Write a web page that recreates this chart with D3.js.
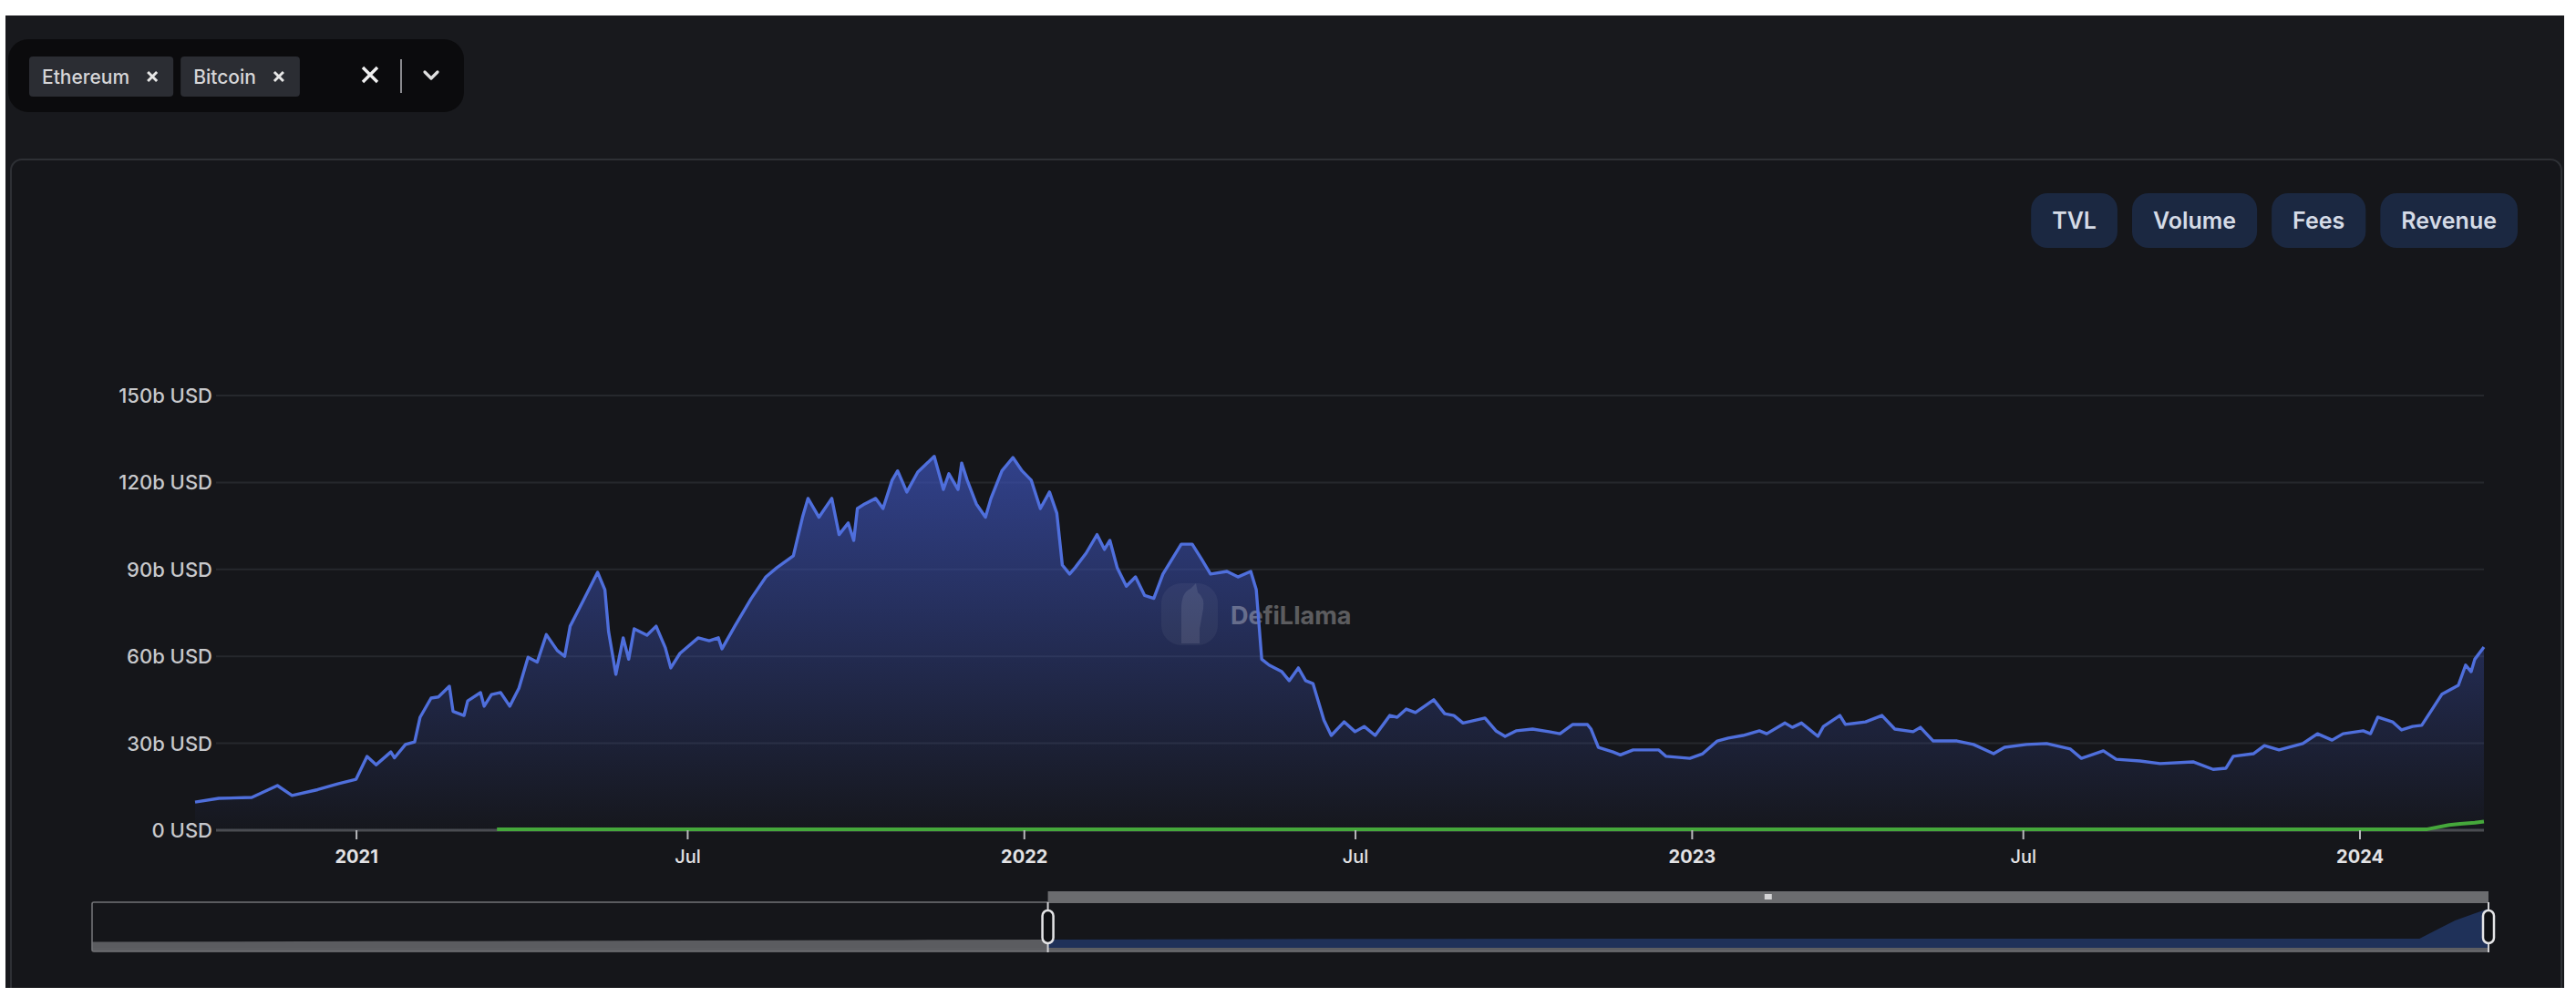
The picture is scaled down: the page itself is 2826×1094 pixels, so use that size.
<!DOCTYPE html>
<html>
<head>
<meta charset="utf-8">
<script src="https://cdnjs.cloudflare.com/ajax/libs/d3/7.8.5/d3.min.js"></script>
<style>
    html, body {margin: 0; padding: 0; background: #ffffff; overflow: hidden;}
    #chart-area {width: 2826px; height: 1094px;}
    svg text {font-family: Inter, "Noto Sans", sans-serif;}
</style>
</head>
<body>
<div id="chart-area"></div>
<script>

//Ethereum TVL in billions of USD
const ethDates = [
    "2020-10-05","2020-10-18","2020-11-05","2020-11-19","2020-11-27","2020-12-11","2020-12-22",
    "2021-01-01","2021-01-07","2021-01-12","2021-01-20","2021-01-22","2021-01-28","2021-02-02",
    "2021-02-05","2021-02-11","2021-02-15","2021-02-21","2021-02-23","2021-03-01","2021-03-03",
    "2021-03-10","2021-03-12","2021-03-16","2021-03-21","2021-03-26","2021-03-31","2021-04-05",
    "2021-04-10","2021-04-15","2021-04-21","2021-04-25","2021-04-28","2021-05-05","2021-05-13",
    "2021-05-17","2021-05-19","2021-05-23","2021-05-27","2021-05-30","2021-06-02","2021-06-09",
    "2021-06-14","2021-06-19","2021-06-22","2021-06-27","2021-07-07","2021-07-13","2021-07-18",
    "2021-07-20","2021-07-27","2021-08-05","2021-08-13","2021-08-19","2021-08-28","2021-09-02",
    "2021-09-05","2021-09-11","2021-09-18","2021-09-22","2021-09-27","2021-09-30","2021-10-02",
    "2021-10-06","2021-10-12","2021-10-16","2021-10-21","2021-10-24","2021-10-29","2021-11-04",
    "2021-11-13","2021-11-18","2021-11-21","2021-11-26","2021-11-28","2021-12-01","2021-12-06",
    "2021-12-11","2021-12-14","2021-12-20","2021-12-26","2021-12-31","2022-01-05","2022-01-10",
    "2022-01-15","2022-01-19","2022-01-22","2022-01-26","2022-01-29","2022-02-04","2022-02-10",
    "2022-02-14","2022-02-17","2022-02-21","2022-02-26","2022-03-03","2022-03-08","2022-03-13",
    "2022-03-18","2022-03-28","2022-04-03","2022-04-08","2022-04-13","2022-04-22","2022-04-28",
    "2022-05-05","2022-05-08","2022-05-11","2022-05-15","2022-05-22","2022-05-26","2022-05-31",
    "2022-06-04","2022-06-08","2022-06-14","2022-06-18","2022-06-25","2022-07-01","2022-07-06",
    "2022-07-12","2022-07-20","2022-07-24","2022-07-29","2022-08-03","2022-08-13","2022-08-19",
    "2022-08-24","2022-08-29","2022-09-10","2022-09-16","2022-09-21","2022-09-27","2022-10-06",
    "2022-10-15","2022-10-21","2022-10-28","2022-11-05","2022-11-07","2022-11-11","2022-11-19",
    "2022-11-23","2022-11-30","2022-12-14","2022-12-18","2022-12-31","2023-01-07","2023-01-15",
    "2023-01-21","2023-01-29","2023-02-07","2023-02-11","2023-02-21","2023-02-25","2023-03-02",
    "2023-03-11","2023-03-14","2023-03-23","2023-03-26","2023-04-06","2023-04-15","2023-04-22",
    "2023-05-02","2023-05-06","2023-05-13","2023-05-26","2023-06-04","2023-06-15","2023-06-21",
    "2023-07-03","2023-07-14","2023-07-27","2023-08-02","2023-08-14","2023-08-21","2023-09-03",
    "2023-09-14","2023-10-02","2023-10-13","2023-10-20","2023-10-24","2023-11-04","2023-11-10",
    "2023-11-18","2023-12-01","2023-12-09","2023-12-17","2023-12-23","2024-01-03","2024-01-07",
    "2024-01-11","2024-01-19","2024-01-24","2024-01-30","2024-02-04","2024-02-10","2024-02-15",
    "2024-02-24","2024-02-28","2024-03-02","2024-03-04","2024-03-09"
];
const ethValues = [
    9.7, 11, 11.3, 15.4, 12, 14, 16,
    17.6, 25.5, 22.6, 27, 25, 29.6, 30.5,
    39, 45.6, 46, 49.7, 41, 39.6, 44.6,
    47.5, 42.8, 46.8, 47.5, 42.8, 49, 59.7,
    58, 67.5, 62, 60, 70.4, 79, 89,
    83, 68.6, 53.8, 66.4, 59, 69.5, 67.3,
    70.4, 63, 56, 61, 66.4, 65.4, 66.4,
    62.6, 70.4, 80, 87.4, 90.6, 94.7, 108,
    114.5, 108, 114.5, 102, 106, 100, 111,
    112.6, 114.5, 111, 120.8, 124, 116.7, 123.6,
    129, 117.6, 123, 117.6, 126.7, 120.8, 112.6,
    108, 114.5, 124, 128.6, 124, 120.8, 111,
    116.7, 109.4, 91.5, 88.4, 90.6, 95.6, 102,
    96.9, 100, 90.6, 84.2, 87.4, 81, 80,
    88.4, 98.7, 98.7, 93.7, 88.4, 89.3, 87.4,
    89.3, 83, 59, 57, 54.7, 51.6, 56,
    51.6, 50.6, 38, 32.7, 37.4, 34, 35.8,
    32.7, 39.6, 39, 41.8, 40.6, 45, 40.2,
    39.6, 37, 38.7, 34.3, 32.4, 34.3, 34.9,
    34, 33.3, 36.5, 36.5, 34.9, 28.6, 27,
    26, 27.7, 27.7, 25.5, 24.8, 26.4, 30.8,
    31.8, 32.7, 34.3, 33.3, 37, 35.5, 37,
    32.4, 35.8, 39.6, 36.5, 37.4, 39.6, 34.9,
    34, 35.5, 30.8, 30.8, 29.6, 26.4, 28.6,
    29.6, 29.9, 28, 24.8, 27.4, 24.5, 23.9,
    23, 23.6, 21, 21.4, 25.5, 26.4, 29.2,
    27.7, 29.9, 33.3, 31.1, 33.3, 34.3, 33.3,
    39, 37.4, 34.6, 35.8, 36.2, 42, 46.9,
    50, 57, 54.7, 59, 63.2
];

//Bitcoin TVL in billions of USD
const btcDates = ["2021-03-19","2021-11-01","2022-06-01","2023-01-01","2023-09-01","2024-02-07","2024-02-19","2024-02-25","2024-03-04","2024-03-09"];
const btcValues = [0.3, 0.35, 0.3, 0.3, 0.3, 0.35, 1.8, 2.2, 2.6, 3.0];

//data shadow drawn in the zoom slider (on its own scale)
const overviewDates = ["2018-06-28","2019-03-01","2019-12-01","2020-06-01","2020-10-05","2021-06-01","2022-06-01","2023-06-01","2024-01-09","2024-02-09","2024-02-25","2024-03-09"];
const overviewValues = [0.45, 0.5, 0.55, 0.6, 0.63, 0.68, 0.7, 0.7, 0.7, 2.1, 2.6, 3.0];

const yTicks = [0, 30, 60, 90, 120, 150];
const xTickDates = ["2021-01-01","2021-07-01","2022-01-01","2022-07-01","2023-01-01","2023-07-01","2024-01-01"];
const chainChips = ["Ethereum", "Bitcoin"];
const metricTabs = ["TVL", "Volume", "Fees", "Revenue"];


class TvlChart {

    constructor(_parentElement) {
        this.parentElement = _parentElement;
        this.parseDate = d3.utcParse("%Y-%m-%d");

        this.initVis();
    }

    initVis() {
        let vis = this;

        vis.width = 2826;
        vis.height = 1094;
        vis.plot = {left: 214, right: 2725, top: 434, bottom: 911};

        vis.svg = d3.select("#" + vis.parentElement).append("svg")
            .attr("width", vis.width)
            .attr("height", vis.height);

        vis.defs = vis.svg.append("defs");

        //gradient under the ethereum line
        vis.ethGradient = vis.defs.append("linearGradient")
            .attr("id", "eth-fill")
            .attr("x1", 0).attr("y1", 0)
            .attr("x2", 0).attr("y2", 1);
        vis.ethGradient.append("stop")
            .attr("offset", "0%")
            .attr("stop-color", "#3a4fb0")
            .attr("stop-opacity", 0.75);
        vis.ethGradient.append("stop")
            .attr("offset", "100%")
            .attr("stop-color", "#3a4fb0")
            .attr("stop-opacity", 0.02);

        //page background and panel
        vis.svg.append("rect")
            .attr("width", vis.width)
            .attr("height", vis.height)
            .attr("fill", "#ffffff");
        vis.svg.append("rect")
            .attr("x", 6).attr("y", 17)
            .attr("width", 2807).attr("height", 1067)
            .attr("fill", "#18191d");
        vis.svg.append("rect")
            .attr("x", 12).attr("y", 175)
            .attr("width", 2798).attr("height", 1000)
            .attr("rx", 12)
            .attr("fill", "#15161a")
            .attr("stroke", "#2e3035")
            .attr("stroke-width", 2);

        vis.drawSelector();
        vis.drawTabs();

        //scales
        vis.x = d3.scaleUtc()
            .range([vis.plot.left, vis.plot.right]);
        vis.y = d3.scaleLinear()
            .domain([0, 150])
            .range([vis.plot.bottom, vis.plot.top]);

        vis.gridG = vis.svg.append("g").attr("class", "grid");
        vis.chartG = vis.svg.append("g").attr("class", "series");
        vis.xAxisG = vis.svg.append("g")
            .attr("class", "x-axis axis")
            .attr("transform", "translate(0," + vis.plot.bottom + ")");
        vis.sliderG = vis.svg.append("g").attr("class", "slider");

        //white edges of the screenshot
        vis.svg.append("rect")
            .attr("x", 0).attr("y", 1084)
            .attr("width", vis.width).attr("height", 10)
            .attr("fill", "#ffffff");
        vis.svg.append("rect")
            .attr("x", 2813).attr("y", 0)
            .attr("width", 13).attr("height", vis.height)
            .attr("fill", "#ffffff");

        vis.wrangleData();
    }

    drawSelector() {
        let vis = this;

        let sel = vis.svg.append("g").attr("class", "selector");

        sel.append("rect")
            .attr("x", 9).attr("y", 43)
            .attr("width", 500).attr("height", 80)
            .attr("rx", 22)
            .attr("fill", "#0b0b0d");

        let chipX = 32;
        chainChips.forEach(function (name) {
            let chip = sel.append("g");
            let box = chip.append("rect")
                .attr("x", chipX).attr("y", 62)
                .attr("height", 44)
                .attr("rx", 4)
                .attr("fill", "#2b2d33");
            let label = chip.append("text")
                .attr("x", chipX + 14)
                .attr("y", 84)
                .attr("dy", "0.36em")
                .attr("font-size", 21)
                .attr("font-weight", 500)
                .attr("fill", "#d6d6d8")
                .text(name);
            let w = label.node().getComputedTextLength() + 62;
            box.attr("width", w);

            //little remove cross
            let cx = chipX + w - 23, cy = 84;
            chip.append("path")
                .attr("d", "M" + (cx - 5) + "," + (cy - 5) + "L" + (cx + 5) + "," + (cy + 5) +
                    "M" + (cx + 5) + "," + (cy - 5) + "L" + (cx - 5) + "," + (cy + 5))
                .attr("stroke", "#e6e6e6")
                .attr("stroke-width", 3);

            chipX += w + 8;
        });

        //clear all, separator and chevron
        sel.append("path")
            .attr("d", "M398,74L414,90M414,74L398,90")
            .attr("stroke", "#f0f0f0")
            .attr("stroke-width", 3.4);
        sel.append("line")
            .attr("x1", 440).attr("x2", 440)
            .attr("y1", 65).attr("y2", 102)
            .attr("stroke", "#8a8a8e")
            .attr("stroke-width", 2);
        sel.append("path")
            .attr("d", "M466,79L473,86L480,79")
            .attr("fill", "none")
            .attr("stroke", "#e0e0e0")
            .attr("stroke-width", 3.2)
            .attr("stroke-linecap", "round")
            .attr("stroke-linejoin", "round");
    }

    drawTabs() {
        let vis = this;

        let tabs = vis.svg.append("g").attr("class", "tabs");

        //measure the labels first, then lay them out from the right
        let items = metricTabs.map(function (t) {
            let txt = tabs.append("text")
                .attr("font-size", 25)
                .attr("font-weight", 600)
                .attr("fill", "#d5dbe6")
                .attr("text-anchor", "middle")
                .attr("dy", "0.36em")
                .text(t);
            return {text: txt, w: txt.node().getComputedTextLength() + 46};
        });

        let right = 2762;
        for (let i = items.length - 1; i >= 0; i--) {
            let it = items[i];
            let left = right - it.w;
            tabs.insert("rect", "text")
                .attr("x", left).attr("y", 212)
                .attr("width", it.w).attr("height", 60)
                .attr("rx", 18)
                .attr("fill", "#1b2841");
            it.text.attr("x", left + it.w / 2).attr("y", 242);
            right = left - 16;
        }
    }

    wrangleData() {
        let vis = this;

        vis.ethData = ethDates.map((d, i) => ({date: vis.parseDate(d), value: ethValues[i]}));
        vis.btcData = btcDates.map((d, i) => ({date: vis.parseDate(d), value: btcValues[i]}));
        vis.overview = overviewDates.map((d, i) => ({date: vis.parseDate(d), value: overviewValues[i]}));
        vis.xTicks = xTickDates.map(d => vis.parseDate(d));

        vis.updateVis();
    }

    updateVis() {
        let vis = this;

        vis.x.domain(d3.extent(vis.ethData, d => d.date));

        //horizontal grid + y labels
        vis.gridG.selectAll(".grid-line")
            .data(yTicks.filter(t => t > 0))
            .enter()
            .append("line")
            .attr("class", "grid-line")
            .attr("x1", 237)
            .attr("x2", vis.plot.right)
            .attr("y1", d => vis.y(d))
            .attr("y2", d => vis.y(d))
            .attr("stroke", "#26282d")
            .attr("stroke-width", 2);

        vis.gridG.selectAll(".y-label")
            .data(yTicks)
            .enter()
            .append("text")
            .attr("class", "y-label")
            .attr("x", 233)
            .attr("y", d => vis.y(d))
            .attr("dy", "0.36em")
            .attr("text-anchor", "end")
            .attr("font-size", 22)
            .attr("font-weight", 500)
            .attr("fill", "#c8c9cc")
            .text(d => d === 0 ? "0 USD" : d + "b USD");

        //zero axis line
        vis.gridG.append("line")
            .attr("x1", 237)
            .attr("x2", vis.plot.right)
            .attr("y1", vis.y(0))
            .attr("y2", vis.y(0))
            .attr("stroke", "#4a4c51")
            .attr("stroke-width", 3);

        //x axis
        vis.xAxis = d3.axisBottom(vis.x)
            .tickValues(vis.xTicks)
            .tickSize(10)
            .tickPadding(12)
            .tickFormat(d => d.getUTCMonth() === 0 ? d.getUTCFullYear() : "Jul");

        vis.xAxisG.call(vis.xAxis);
        vis.xAxisG.select(".domain").remove();
        vis.xAxisG.selectAll(".tick line")
            .attr("stroke", "#b9babd")
            .attr("stroke-width", 2);
        vis.xAxisG.selectAll(".tick text")
            .attr("fill", "#e2e2e4")
            .attr("font-family", "Inter, 'Noto Sans', sans-serif")
            .attr("font-size", 20)
            .attr("font-weight", d => d.getUTCMonth() === 0 ? 700 : 500);

        //ethereum area + line
        let area = d3.area()
            .x(d => vis.x(d.date))
            .y0(vis.y(0))
            .y1(d => vis.y(d.value));
        let line = d3.line()
            .x(d => vis.x(d.date))
            .y(d => vis.y(d.value));

        vis.chartG.append("path")
            .datum(vis.ethData)
            .attr("d", area)
            .attr("fill", "url(#eth-fill)");

        //watermark
        let mark = vis.chartG.append("g").attr("class", "watermark").attr("opacity", 0.3);
        mark.append("rect")
            .attr("x", 1274).attr("y", 640)
            .attr("width", 62).attr("height", 68)
            .attr("rx", 22)
            .attr("fill", "#ffffff")
            .attr("fill-opacity", 0.16);
        mark.append("path")
            .attr("d", "M1296,706L1296,668Q1296,650 1306,646L1312,640L1314,650Q1322,656 1320,668L1316,690L1316,706Z")
            .attr("fill", "#ffffff")
            .attr("fill-opacity", 0.35);
        mark.append("text")
            .attr("x", 1350)
            .attr("y", 675)
            .attr("dy", "0.36em")
            .attr("font-size", 27)
            .attr("font-weight", 700)
            .attr("fill", "#ffffff")
            .text("DefiLlama");

        vis.chartG.append("path")
            .datum(vis.ethData)
            .attr("d", line)
            .attr("fill", "none")
            .attr("stroke", "#4f6fdc")
            .attr("stroke-width", 3.4)
            .attr("stroke-linejoin", "round");

        //bitcoin line
        vis.chartG.append("path")
            .datum(vis.btcData)
            .attr("d", line)
            .attr("fill", "none")
            .attr("stroke", "#45a83b")
            .attr("stroke-width", 4)
            .attr("stroke-linejoin", "round");

        vis.drawSlider();
    }

    drawSlider() {
        let vis = this;

        let top = 990, bottom = 1044;
        let sx = d3.scaleUtc()
            .domain(d3.extent(vis.overview, d => d.date))
            .range([101, 2730]);
        let sy = d3.scaleLinear()
            .domain([0, d3.max(vis.overview, d => d.value)])
            .range([1040, 997]);

        let h0 = sx(vis.x.domain()[0]);
        let h1 = sx(vis.x.domain()[1]);

        vis.defs.append("clipPath").attr("id", "clip-out")
            .append("rect").attr("x", 101).attr("y", top).attr("width", h0 - 101).attr("height", bottom - top);
        vis.defs.append("clipPath").attr("id", "clip-in")
            .append("rect").attr("x", h0).attr("y", top).attr("width", h1 - h0).attr("height", bottom - top);

        let shadow = d3.area()
            .x(d => sx(d.date))
            .y0(sy(0))
            .y1(d => sy(d.value));

        vis.sliderG.append("rect")
            .attr("x", 101).attr("y", 1040)
            .attr("width", 2629).attr("height", 4)
            .attr("fill", "#5d5e62");

        vis.sliderG.append("path")
            .datum(vis.overview)
            .attr("d", shadow)
            .attr("clip-path", "url(#clip-out)")
            .attr("fill", "#5b5c60");
        vis.sliderG.append("path")
            .datum(vis.overview)
            .attr("d", shadow)
            .attr("clip-path", "url(#clip-in)")
            .attr("fill", "#1f3159");

        vis.sliderG.append("rect")
            .attr("x", 101).attr("y", top)
            .attr("width", 2629).attr("height", bottom - top)
            .attr("rx", 2)
            .attr("fill", "none")
            .attr("stroke", "#727377")
            .attr("stroke-width", 1.6);

        //selected range bar with grip
        vis.sliderG.append("rect")
            .attr("x", h0).attr("y", 978)
            .attr("width", h1 - h0).attr("height", 13)
            .attr("fill", "#6b6c6f");
        vis.sliderG.append("rect")
            .attr("x", (h0 + h1) / 2 - 4).attr("y", 981)
            .attr("width", 8).attr("height", 6)
            .attr("fill", "#d4d4d6");

        //handles
        [h0, h1].forEach(function (hx) {
            vis.sliderG.append("line")
                .attr("x1", hx).attr("x2", hx)
                .attr("y1", top).attr("y2", bottom + 1)
                .attr("stroke", "#cfcfd2")
                .attr("stroke-width", 2);
            vis.sliderG.append("rect")
                .attr("x", hx - 6).attr("y", 999)
                .attr("width", 12).attr("height", 36)
                .attr("rx", 6)
                .attr("fill", "#0f1013")
                .attr("stroke", "#e4e4e6")
                .attr("stroke-width", 2.5);
        });
    }
}

new TvlChart("chart-area");

</script>
</body>
</html>
